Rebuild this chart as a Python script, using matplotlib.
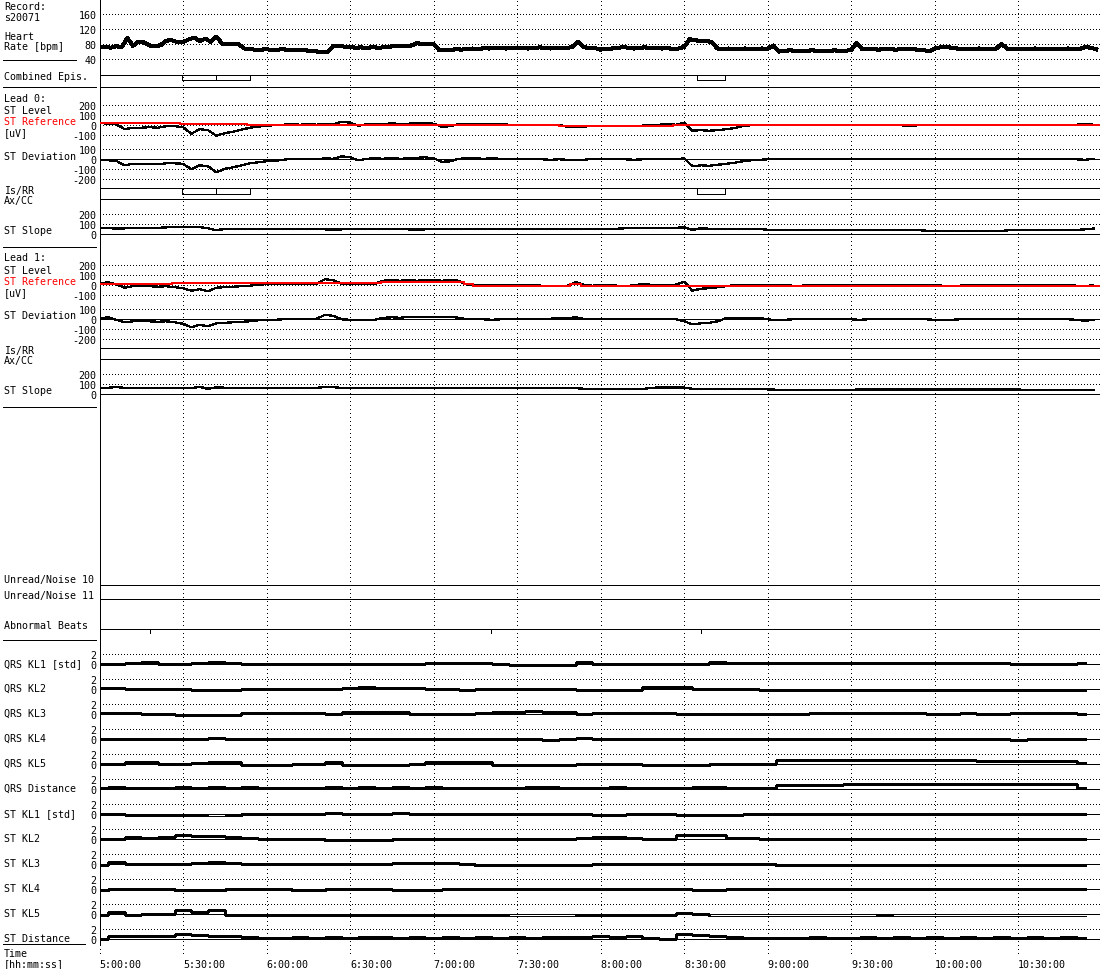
import matplotlib
matplotlib.use('Agg')
import matplotlib.pyplot as plt
from matplotlib.lines import Line2D
from matplotlib.patches import Rectangle
import numpy as np

plt.rcParams['font.family'] = 'DejaVu Sans Mono'
plt.rcParams['font.size'] = 7.2
plt.rcParams['lines.antialiased'] = False
plt.rcParams['patch.antialiased'] = False

W, H = 1100, 970
LEFT, WIDTH = 99.5, 1000.0
T_END = 359.2          # minutes after 5:00:00
LW = 0.7
DOT = (0, (1, 3))
VDOT = (0, (1, 4))

time_ticks = [0, 30, 60, 90, 120, 150, 180, 210, 240, 270, 300, 330]
time_labels = ['5:00:00', '5:30:00', '6:00:00', '6:30:00', '7:00:00', '7:30:00',
               '8:00:00', '8:30:00', '9:00:00', '9:30:00', '10:00:00', '10:30:00']

# heart rate [bpm], one value every 2 minutes (one row = 30 min)
heart_rate = [
    71, 73, 70, 74, 72, 96, 75, 86, 84, 76, 74, 77, 89, 90, 85,
    85, 92, 97, 88, 94, 86, 100, 81, 80, 80, 79, 68, 66, 65, 65,
    66, 64, 65, 66, 64, 63, 64, 63, 62, 60, 59, 59, 74, 75, 73,
    72, 70, 71, 69, 72, 70, 71, 73, 74, 75, 74, 76, 82, 80, 81,
    80, 64, 63, 64, 66, 65, 67, 68, 66, 69, 68, 70, 69, 68, 69,
    69, 70, 68, 69, 71, 70, 68, 69, 70, 69, 73, 86, 71, 70, 69,
    65, 67, 68, 69, 72, 70, 68, 70, 71, 69, 70, 68, 69, 67, 68,
    72, 93, 90, 88, 89, 84, 68, 67, 68, 66, 67, 68, 66, 67, 68,
    67, 76, 60, 62, 63, 62, 61, 62, 63, 62, 61, 62, 63, 62, 62,
    64, 83, 66, 67, 66, 65, 67, 66, 65, 66, 67, 66, 65, 64, 60,
    68, 71, 73, 70, 68, 67, 66, 67, 68, 67, 66, 67, 80, 68, 67,
    67, 66, 67, 68, 67, 66, 67, 66, 67, 68, 67, 66, 72, 70, 66,
]

# combined episodes and lead 0 Is/RR episodes [min]
combined_start = [29.6, 42.0, 214.6]
combined_end = [42.0, 54.0, 224.8]
isrr0_start = [29.6, 42.0, 214.6]
isrr0_end = [42.0, 54.0, 224.8]
isrr1_start = []
isrr1_end = []

# ST traces [uV], one value every 3 minutes (one row = 30 min)
lead0_level = [
    15, 12, 5, -45, -30, -30, -25, -30, -15, -15,
    -25, -90, -45, -55, -110, -85, -70, -50, -30, -20,
    -10, -5, 0, 5, 0, 5, 0, 10, 5, 30,
    20, -10, 5, 10, 5, 15, 5, 10, 15, 20,
    10, -20, -15, 5, 10, 10, 5, 10, 5, 0,
    0, 0, 0, 0, -5, 0, -20, -25, -20, -10,
    -15, -15, -10, -15, -15, -10, 0, 0, 5, 0,
    20, -60, -55, -60, -55, -45, -35, -15, -5, 0,
    0, 0, -5, -5, -5, -5, -5, -5, -5, -5,
    -5, -5, -5, -5, -5, -5, -5, -15, -5, -5,
    0, 0, 0, 0, 0, 0, 0, 0, 0, 0,
    0, 0, 0, 0, 0, 0, 0, 0, 10, 0,
]
lead0_ref_t = [0, 29, 53, 165, 195, 206, 234, T_END]
lead0_ref = [20, 10, 0, -15, -10, 0, -5, -5]
lead0_dev = [
    -10, -10, -15, -60, -45, -45, -45, -50, -40, -40,
    -45, -100, -60, -70, -130, -95, -80, -60, -40, -30,
    -20, -15, -5, 5, 0, 5, 0, 10, 5, 30,
    20, -10, 5, 10, 5, 15, 5, 10, 15, 20,
    10, -25, -20, 5, 10, 10, 5, 10, 5, 0,
    0, 0, 0, 0, -5, 0, -5, -10, -5, 5,
    0, 0, 5, 0, -5, 0, 0, 0, 5, 0,
    10, -70, -60, -65, -55, -45, -35, -20, -10, -5,
    0, 0, 0, 0, 0, 0, 0, 0, 0, 0,
    0, 0, 0, 0, 0, 0, 0, 0, 0, 0,
    0, 0, 0, 0, 0, 0, 0, 0, 0, 0,
    0, 0, 0, 0, 0, 0, 0, 0, -5, 5,
]
lead0_slope = [
    60, 62, 58, 60, 65, 62, 60, 63, 70, 72,
    75, 70, 72, 60, 40, 55, 50, 52, 50, 50,
    50, 52, 50, 50, 50, 50, 50, 50, 48, 50,
    50, 50, 52, 50, 50, 50, 50, 50, 48, 50,
    52, 50, 50, 50, 50, 50, 50, 50, 50, 50,
    50, 50, 50, 50, 50, 50, 50, 50, 50, 50,
    50, 50, 55, 62, 63, 64, 63, 62, 63, 64,
    70, 45, 60, 55, 55, 55, 55, 55, 55, 55,
    45, 43, 43, 43, 43, 43, 43, 43, 43, 43,
    43, 43, 43, 43, 43, 43, 43, 43, 43, 35,
    33, 32, 33, 33, 32, 33, 33, 33, 33, 43,
    43, 43, 43, 43, 43, 43, 43, 43, 50, 57,
]
lead1_level = [
    10, 25, 5, -30, -15, -10, -15, -20, -15, -25,
    -35, -60, -45, -65, -30, -25, -20, -15, -10, 0,
    5, 5, 5, 5, 5, 5, 10, 55, 45, 10,
    10, 10, 10, 10, 40, 45, 40, 45, 40, 45,
    45, 40, 45, 40, 0, 0, 0, -5, 0, 0,
    0, -5, -5, -10, -10, -10, -10, 25, 0, -10,
    -5, 0, -10, -15, -5, 5, 0, -5, -5, 0,
    30, -60, -40, -35, -25, -15, -5, 0, 0, 0,
    -5, -5, -5, -10, -10, -5, -5, -5, -5, -5,
    -5, -5, -5, -5, -5, -5, -5, -5, -5, -5,
    -5, -10, -10, -10, -5, -5, -5, -5, -5, -5,
    -5, -5, -5, -5, -5, -5, -5, -10, -15, -5,
]
lead1_ref_t = [0, 26, 101, 131, 134, 169, 173, T_END]
lead1_ref = [5, 15, 25, 5, -10, 5, -10, -10]
lead1_dev = [
    5, 20, -5, -30, -20, -15, -20, -25, -20, -30,
    -45, -80, -55, -70, -40, -35, -30, -25, -20, -10,
    -5, -5, 0, 0, 0, 0, 5, 45, 35, 0,
    -5, -5, -5, -5, 15, 20, 15, 25, 20, 25,
    25, 20, 25, 15, 0, 0, 0, -5, 0, 0,
    0, 5, 0, 0, 5, 15, 10, 20, 5, 0,
    5, 0, 0, 5, 0, 0, 5, 0, 0, 0,
    -20, -50, -40, -35, -20, 10, 12, 13, 13, 13,
    0, -10, -5, 0, 0, 0, 0, 0, 0, 0,
    0, -5, 0, 0, 0, 0, 0, 0, 0, 0,
    -5, -5, -5, 0, 0, 0, 0, 0, 0, 0,
    0, 0, 0, 0, 0, 0, 0, -5, -15, -5,
]
lead1_slope = [
    63, 63, 75, 63, 62, 63, 63, 63, 62, 63,
    63, 60, 75, 55, 70, 65, 63, 62, 63, 63,
    63, 63, 63, 63, 63, 63, 63, 75, 72, 63,
    63, 63, 63, 63, 62, 63, 63, 63, 63, 63,
    63, 63, 63, 63, 63, 63, 63, 63, 63, 63,
    63, 63, 63, 63, 63, 63, 63, 63, 55, 50,
    50, 50, 50, 50, 50, 50, 65, 67, 67, 67,
    67, 55, 52, 50, 50, 50, 50, 50, 50, 50,
    50, 45, 43, 43, 43, 43, 43, 43, 43, 43,
    45, 47, 47, 47, 47, 47, 47, 47, 47, 47,
    47, 47, 47, 47, 47, 47, 47, 47, 47, 47,
    47, 43, 40, 40, 40, 40, 40, 40, 40, 45,
]

abnormal_beats = [18.0, 140.8, 215.9]

# KL coefficients [std], one value every 6 minutes (one row = 30 min)
qrs_kl1 = [0, 0, 0.3, 0.35, 0, 0, 0.3, 0.35, 0.3, 0, 0, 0, 0, 0, 0,
           0, 0, 0, 0.1, 0, 0.25, 0.3, 0.25, 0.3, 0, -0.1, -0.1, -0.1, -0.1, 0.5,
           0, 0, 0, 0, 0, 0, 0.1, 0.45, 0.2, 0.2, 0.27, 0.27, 0.27, 0.27, 0.27,
           0.27, 0.27, 0.27, 0.27, 0.27, 0.27, 0.27, 0.27, 0.27, 0.27, 0, 0, 0, 0, 0.2]
qrs_kl2 = [0.3, 0.2, 0, 0, 0, 0, -0.2, -0.2, -0.2, 0, 0, 0, 0, 0, 0,
           0.3, 0.35, 0.3, 0.3, 0.3, 0, 0, -0.1, 0, 0, 0, 0, 0, 0, -0.2,
           -0.1, -0.1, -0.1, 0.33, 0.33, 0.5, 0, 0, 0, 0, -0.1, -0.1, -0.1, -0.1, -0.1,
           -0.1, -0.3, -0.3, -0.3, -0.3, -0.3, -0.3, -0.3, -0.3, -0.3, -0.3, -0.3, -0.3, -0.3, -0.3]
qrs_kl3 = [0.3, 0.3, 0.2, 0, 0, -0.13, -0.13, -0.13, -0.13, 0.2, 0.27, 0.27, 0.27, 0.27, 0.1,
           0.33, 0.33, 0.33, 0.33, 0, 0, 0, 0, 0.3, 0.5, 0.5, 0.55, 0.5, 0.5, 0,
           0.2, 0.2, 0.2, 0.2, 0.2, 0.1, 0, 0, 0, 0, 0, 0, 0, 0.27, 0.27,
           0.27, 0.27, 0.27, 0.27, 0.27, 0, 0.1, 0.2, 0.1, 0.1, 0.2, 0.2, 0.3, 0.3, 0]
qrs_kl4 = [0, 0.05, 0, 0.1, 0, 0, 0.05, 0.25, 0.1, 0, 0, 0, 0, 0, 0.1,
           0, 0, 0, 0.1, 0, 0, 0, 0.1, 0, 0, 0, 0, -0.1, 0, 0.2,
           0, 0, 0, 0, 0, 0.1, 0, 0.1, 0, 0, 0, 0, 0.1, 0, 0,
           0, 0, 0, 0, 0, 0, 0, 0.1, 0, 0, -0.1, 0, 0.1, 0.1, 0.05]
qrs_kl5 = [0, 0.1, 0.33, 0.33, 0, 0, 0.2, 0.4, 0.4, -0.27, -0.27, -0.27, 0, 0, 0.45,
           -0.27, -0.27, -0.27, -0.27, 0.1, 0.33, 0.33, 0.33, 0.33, -0.2, -0.2, -0.2, -0.2, -0.2, 0,
           0, 0, 0, -0.27, -0.27, -0.3, -0.4, 0.1, 0.1, 0.1, 0.1, 0.8, 0.8, 0.8, 0.8,
           0.75, 0.75, 0.75, 0.75, 0.75, 0.75, 0.75, 0.75, 0.7, 0.7, 0.67, 0.67, 0.67, 0.67, 0.2]
qrs_dist = [0.3, 0.4, 0.3, 0.2, 0.3, 0.4, 0.3, 0.5, 0.2, 0.4, 0.3, 0.2, 0.3, 0.3, 0.4,
            0.3, 0.4, 0.3, 0.5, 0.3, 0.4, 0.2, 0.3, 0.3, 0.3, 0.3, 0.5, 0.4, 0.3, 0.2,
            0.3, 0.4, 0.3, 0.3, 0.2, 0.3, 0.5, 0.4, 0.3, 0.3, 0.3, 0.8, 0.8, 0.8, 0.8,
            0.93, 0.93, 0.93, 0.93, 0.93, 0.93, 0.93, 0.93, 0.93, 0.93, 0.93, 0.93, 0.93, 0.93, 0.3]
st_kl1 = [0, 0, -0.2, -0.2, -0.2, -0.4, -0.47, -0.5, -0.4, 0, 0, 0, 0, 0, 0.27,
          0, 0, 0, 0.15, 0.1, 0, 0, 0.1, 0, 0, 0, 0, 0, 0, 0,
          -0.2, -0.2, 0, 0, 0, -0.2, -0.35, -0.3, -0.2, 0, 0, 0, 0, 0, 0,
          0, 0, 0, 0.05, 0, 0, 0, 0, 0, 0, 0, 0, 0, 0, 0]
st_kl2 = [0, 0, 0.35, 0.3, 0.4, 0.8, 0.6, 0.65, 0.5, 0.2, 0, 0, 0, 0, -0.3,
          -0.33, -0.3, -0.33, 0.1, 0.1, 0.1, 0.1, 0, 0, 0, 0, 0, 0, 0, 0.2,
          0.33, 0.33, 0.3, 0.1, 0, 0.9, 0.87, 0.8, 0.3, 0.3, 0, 0, 0, 0, 0,
          0, 0, 0, 0, 0, 0, 0, 0, 0, 0, 0, 0, 0, 0, 0]
st_kl3 = [-0.1, 0.4, 0, 0, 0.1, 0, 0.2, 0.5, 0.2, 0, 0, 0, 0, 0, 0,
          0, 0, 0, 0.2, 0.2, 0.2, 0.2, 0, -0.3, -0.3, -0.33, -0.33, -0.33, -0.33, -0.1,
          0, 0, 0, 0, 0, 0.1, 0, 0, 0, 0, 0, -0.45, -0.45, -0.45, -0.45,
          -0.45, -0.45, -0.45, -0.45, -0.45, -0.45, -0.45, -0.45, -0.45, -0.45, -0.45, -0.45, -0.45, -0.45, -0.45]
st_kl4 = [-0.45, 0.1, 0, 0, 0, -0.3, -0.33, -0.3, 0, 0, 0, 0, -0.3, -0.3, 0,
          0, 0, 0, -0.25, -0.25, -0.2, 0, 0, 0, 0, 0, 0, 0, 0, 0.1,
          0, 0, 0, 0, 0, 0.1, -0.2, -0.1, 0, 0, 0, 0, 0, 0, 0,
          0, 0, 0, 0, 0, 0, 0, 0, 0, 0, 0, 0, 0, 0.1, 0]
st_kl5 = [-0.2, 0.5, -0.1, 0, 0.1, 0.9, 0.4, 0.9, -0.1, -0.45, -0.47, -0.47, -0.47, -0.47, -0.3,
          -0.33, -0.33, -0.2, -0.33, -0.33, -0.3, -0.3, -0.33, -0.33, -0.4, -0.67, -0.67, -0.67, -0.67, -0.2,
          -0.45, -0.45, -0.45, -0.2, -0.2, 0.2, 0.1, -0.5, -0.5, -0.5, -0.67, -0.67, -0.67, -0.67, -0.67,
          -0.67, -0.67, -0.4, -0.67, -0.67, -0.67, -0.67, -0.67, -0.67, -0.67, -0.67, -0.67, -0.67, -0.67, -0.67]
st_dist = [0, 0.6, 0.7, 0.6, 0.7, 1.0, 0.8, 0.7, 0.7, 0.4, 0.3, 0.3, 0.35, 0.3, 0.4,
           0.3, 0.4, 0.5, 0.3, 0.35, 0.3, 0.4, 0.3, 0.35, 0.3, 0.35, 0.3, 0.4, 0.35, 0.4,
           0.55, 0.5, 0.55, 0.15, 0.1, 1.1, 0.8, 0.7, 0.5, 0.3, 0.3, 0.3, 0.3, 0.35, 0.3,
           0.3, 0.35, 0.3, 0.4, 0.3, 0.35, 0.3, 0.4, 0.3, 0.35, 0.3, 0.35, 0.3, 0.4, 0.3]

kl_names = ['QRS KL1 [std]', 'QRS KL2', 'QRS KL3', 'QRS KL4', 'QRS KL5', 'QRS Distance',
            'ST KL1 [std]', 'ST KL2', 'ST KL3', 'ST KL4', 'ST KL5', 'ST Distance']
kl_series = [qrs_kl1, qrs_kl2, qrs_kl3, qrs_kl4, qrs_kl5, qrs_dist,
             st_kl1, st_kl2, st_kl3, st_kl4, st_kl5, st_dist]

hr_t = np.arange(len(heart_rate)) * 2
st_t = np.arange(len(lead0_level)) * 3
kl_t = np.arange(len(qrs_kl1)) * 6

fig = plt.figure(figsize=(W / 100, H / 100), dpi=100)


def panel(top, bottom, zero=0.0, scale=1.0):
    # axes placed by pixel rows; value v is drawn at pixel row zero - v*scale
    ax = fig.add_axes([LEFT / W, 1 - bottom / H, WIDTH / W, (bottom - top) / H])
    ax.set_xlim(0, T_END)
    ax.set_ylim((zero - bottom) / scale, (zero - top) / scale)
    ax.patch.set_visible(False)
    for s in ax.spines.values():
        s.set_visible(False)
        s.set_linewidth(LW)
    ax.set_xticks([])
    ax.set_yticks([])
    ax.tick_params(axis='y', length=0, pad=2.2, labelsize=7.2)
    return ax


def dotted(ax, values):
    for v in values:
        ax.axhline(v, color='k', lw=LW, ls=DOT, zorder=1)


def solid(ax, v):
    ax.axhline(v, color='k', lw=LW, zorder=1)


def yticks(ax, values):
    ax.set_yticks(values)
    ax.set_yticklabels([str(v) for v in values])


def boxes(ax, starts, ends):
    for s, e in zip(starts, ends):
        ax.add_patch(Rectangle((s, -5.5), e - s, 5.5, fill=False, lw=LW, ec='k'))


# vertical time grid and time labels
bg = panel(0, 958)
for t in time_ticks:
    bg.axvline(t, color='k', lw=LW, ls=VDOT)
bg.set_xticks(time_ticks)
bg.set_xticklabels(time_labels, ha='left', va='baseline')
bg.tick_params(axis='x', length=0, pad=7.2, labelsize=7.2)

# outer frame
fr = panel(0, 945)
for side in ['left', 'top', 'right']:
    fr.spines[side].set_visible(True)

# heart rate
hr_ax = panel(0, 75.5, zero=75.0, scale=0.375)
dotted(hr_ax, [40, 80, 120, 160])
yticks(hr_ax, [40, 80, 120, 160])
hr_ax.plot(hr_t, heart_rate, color='k', lw=2.2)

# combined episodes
ep_ax = panel(75.5, 88.3, zero=75.5)
ep_ax.spines['top'].set_visible(True)
ep_ax.spines['bottom'].set_visible(True)
boxes(ep_ax, combined_start, combined_end)

leads = [
    (lead0_level, lead0_ref_t, lead0_ref, lead0_dev, isrr0_start, isrr0_end, lead0_slope),
    (lead1_level, lead1_ref_t, lead1_ref, lead1_dev, isrr1_start, isrr1_end, lead1_slope),
]
for i, (level, ref_t, ref, dev, is_s, is_e, slope) in enumerate(leads):
    b = 160 * i
    lv = panel(88.3 + b, 189.3 + b, zero=125.7 + b, scale=0.1)
    dotted(lv, [200, 100, 0, -100])
    yticks(lv, [200, 100, 0, -100])
    lv.plot(st_t, level, color='k', lw=0.9, zorder=3)
    lv.plot(ref_t, ref, color='red', lw=1.2, drawstyle='steps-post', zorder=4)

    dv = panel(88.3 + b, 189.3 + b, zero=160.3 + b, scale=0.1)
    dotted(dv, [100, -100, -200])
    solid(dv, 0)
    yticks(dv, [100, 0, -100, -200])
    dv.plot(st_t, dev, color='k', lw=0.9, zorder=3)

    ir = panel(189.3 + b, 200.3 + b, zero=189.3 + b)
    ir.spines['top'].set_visible(True)
    ir.spines['bottom'].set_visible(True)
    boxes(ir, is_s, is_e)

    sl = panel(200.3 + b, 236.5 + b, zero=235.3 + b, scale=0.1)
    dotted(sl, [200, 100])
    solid(sl, 0)
    yticks(sl, [200, 100, 0])
    sl.plot(st_t, slope, color='k', lw=1.0, zorder=3)

# noise and abnormal beat rows
for top, bottom in [(570, 585.7), (585.7, 600.3), (600.3, 630)]:
    ax = panel(top, bottom)
    ax.spines['bottom'].set_visible(True)
ax.vlines(abnormal_beats, -0.12, 0, transform=ax.get_xaxis_transform(),
          color='k', lw=LW, clip_on=False)

# KL panels
for k, vals in enumerate(kl_series):
    z = 665 + 25 * k
    ax = panel(z - 13, z + 3, zero=z, scale=5)
    dotted(ax, [2])
    solid(ax, 0)
    yticks(ax, [2, 0])
    ax.plot(kl_t, vals, color='k', lw=1.0, drawstyle='steps-mid', zorder=3)

# left column labels (baseline pixel rows)
labels = [(10, 'Record:', 'k'), (21, 's20071', 'k'), (40, 'Heart', 'k'),
          (50, 'Rate [bpm]', 'k'), (80, 'Combined Epis.', 'k')]
for i in range(2):
    b = 160 * i
    labels += [(101.5 + b, f'Lead {i}:', 'k'), (114 + b, 'ST Level', 'k'),
               (125 + b, 'ST Reference', 'red'), (136 + b, '[uV]', 'k'),
               (159.5 + b, 'ST Deviation', 'k'), (194 + b, 'Is/RR', 'k'),
               (204 + b, 'Ax/CC', 'k'), (234 + b, 'ST Slope', 'k')]
labels += [(583, 'Unread/Noise 10', 'k'), (599, 'Unread/Noise 11', 'k'),
           (629, 'Abnormal Beats', 'k')]
for k, name in enumerate(kl_names):
    labels.append((667 + 25 * k, name, 'k'))
labels += [(957.5, 'Time', 'k'), (967.5, '[hh:mm:ss]', 'k')]
for y, s, c in labels:
    fig.text(4 / W, 1 - y / H, s, ha='left', va='baseline', color=c, fontsize=7.2)

for y, x1 in [(60.7, 76), (88.3, 96), (248.3, 96), (407.7, 96), (640.7, 96), (945, 85)]:
    fig.add_artist(Line2D([3 / W, x1 / W], [1 - y / H, 1 - y / H], color='k', lw=LW,
                          transform=fig.transFigure))

fig.savefig('out.png', dpi=100)
